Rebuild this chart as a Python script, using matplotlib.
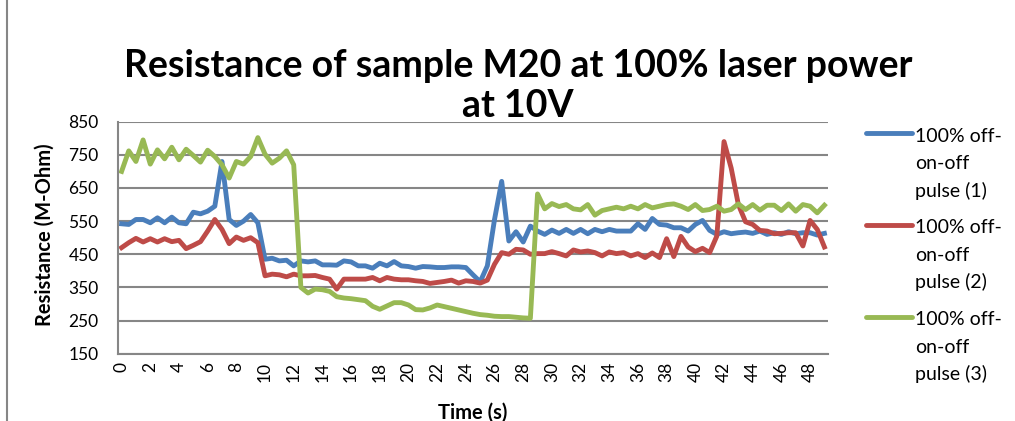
import matplotlib.pyplot as plt
from matplotlib.lines import Line2D
import numpy as np

plt.rcParams['font.family'] = ['Lato', 'DejaVu Sans']

# samples every 0.5 s
time_s = np.arange(99) * 0.5

pulse_1 = [542, 540, 555, 555, 545, 560, 545, 562, 545, 542,
           577, 572, 580, 595, 730, 555, 537, 550, 570, 545,
           435, 438, 430, 432, 415, 430, 427, 430, 418, 418,
           417, 430, 427, 415, 415, 408, 423, 415, 428, 415,
           413, 408, 413, 412, 410, 410, 412, 412, 410, 388,
           367, 415, 555, 670, 490, 518, 487, 535, 520, 510,
           523, 513, 525, 513, 525, 512, 525, 518, 525, 520,
           520, 520, 542, 525, 558, 540, 538, 530, 530, 520,
           540, 552, 522, 510, 518, 512, 515, 517, 513, 520,
           510, 515, 510, 518, 512, 515, 515, 508, 513]

pulse_2 = [470, 485, 498, 487, 497, 487, 497, 488, 492, 467,
           477, 488, 520, 555, 525, 482, 502, 492, 500, 485,
           385, 390, 388, 382, 390, 385, 385, 386, 380, 375,
           345, 375, 375, 375, 375, 380, 370, 380, 375, 373,
           373, 370, 368, 362, 365, 368, 372, 363, 370, 368,
           363, 372, 420, 455, 450, 465, 463, 450, 452, 452,
           458, 452, 445, 463, 457, 460, 455, 445, 457, 452,
           455, 445, 452, 440, 454, 440, 497, 443, 504, 472,
           458, 468, 455, 505, 790, 710, 600, 548, 540, 522,
           520, 512, 513, 515, 515, 475, 552, 525, 472]

pulse_3 = [700, 762, 730, 795, 722, 765, 738, 773, 735, 767,
           748, 728, 764, 745, 720, 680, 730, 722, 745, 802,
           752, 725, 740, 762, 720, 350, 333, 345, 343, 338,
           322, 318, 316, 313, 310, 293, 284, 294, 304, 304,
           297, 283, 282, 288, 297, 292, 287, 282, 277, 272,
           268, 266, 263, 262, 262, 260, 258, 257, 632, 587,
           603, 594, 600, 587, 584, 600, 568, 582, 587, 592,
           587, 595, 587, 600, 590, 595, 600, 602, 595, 585,
           600, 582, 585, 595, 580, 585, 602, 585, 600, 583,
           598, 598, 582, 602, 580, 600, 595, 575, 598]

series = [pulse_1, pulse_2, pulse_3]
labels = ['100% off-on-off pulse (1)', '100% off-on-off pulse (2)',
          '100% off-on-off pulse (3)']
colors = ['#4A7EBB', '#BE4B48', '#98B954']

x_ticks = [0, 2, 4, 6, 8, 10, 12, 14, 16, 18, 20, 22, 24, 26, 28, 30,
           32, 34, 36, 38, 40, 42, 44, 46, 48]
y_ticks = [150, 250, 350, 450, 550, 650, 750, 850]

title_lines = ['Resistance of sample M20 at 100% laser power', 'at 10V']

W, H = 1015, 421
fig = plt.figure(figsize=(W / 100, H / 100), dpi=100)
ax = fig.add_axes([118 / W, 1 - 353.7 / H, 710 / W, 232 / H])

for values, color in zip(series, colors):
    ax.plot(time_s, values, color=color, lw=3.5, solid_joinstyle='round')

ax.set_xlim(-0.25, 49.25)
ax.set_ylim(150, 850)
ax.set_xticks(x_ticks)
ax.set_xticklabels([str(t) for t in x_ticks], rotation=90)
ax.set_yticks(y_ticks)
ax.tick_params(length=0, labelsize=12.5)
ax.tick_params(axis='y', pad=14)
ax.tick_params(axis='x', pad=6)

ax.yaxis.grid(True, color='#868686', lw=1.5)
ax.set_axisbelow(True)
for side in ['top', 'right']:
    ax.spines[side].set_visible(False)
for side in ['left', 'bottom']:
    ax.spines[side].set_color('#868686')
    ax.spines[side].set_linewidth(1.5)

# two-line title, one text per line
for line, base in zip(title_lines, [77, 117]):
    fig.text(518 / W, 1 - base / H, line, ha='center', va='baseline',
             fontsize=27, fontweight='bold')
fig.text(45 / W, 1 - 235 / H, 'Resistance (M-Ohm)', rotation=90, ha='center',
         va='center', fontsize=14.5, fontweight='bold')
fig.text(473 / W, 1 - 413 / H, 'Time (s)', ha='center', va='center',
         fontsize=14.5, fontweight='bold')

# legend on the right, each label wrapped over three lines
for k, (label, color) in enumerate(zip(labels, colors)):
    y0 = 133.3 + 91.7 * k
    fig.add_artist(Line2D([866 / W, 912 / W], [1 - y0 / H, 1 - y0 / H],
                          color=color, lw=3.5, solid_capstyle='round'))
    words = label.split(' ')
    lines = [words[0] + ' ' + words[1].split('-')[0] + '-',
             words[1].split('-', 1)[1], words[2] + ' ' + words[3]]
    for j, line in enumerate(lines):
        fig.text(915 / W, 1 - (141.7 + 91.7 * k + 27.5 * j) / H, line,
                 ha='left', va='baseline', fontsize=14)

fig.add_artist(Line2D([7 / W, 7 / W], [0, 1], color='#868686', lw=1.5))

fig.savefig('out.png', dpi=100)
